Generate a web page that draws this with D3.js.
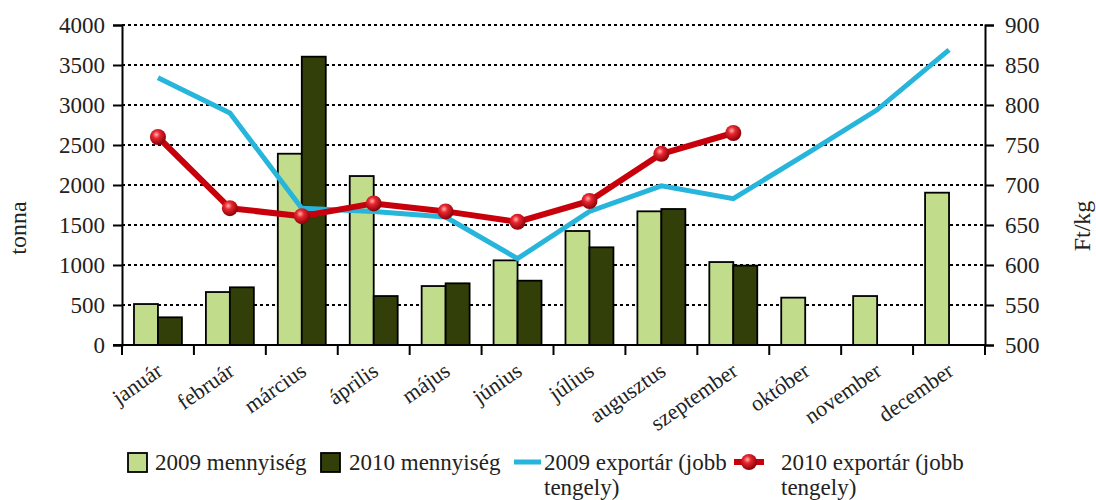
<!DOCTYPE html>
<meta charset="utf-8">
<script src="https://d3js.org/d3.v7.min.js"></script>
<style>
  body { margin: 0; background: #fff; }
  text { font-family: "Liberation Serif", "DejaVu Serif", serif; fill: #222; }
</style>
<div id="chart"></div>
<script>

    // data
    var months = ["január", "február", "március", "április", "május", "június",
                  "július", "augusztus", "szeptember", "október", "november", "december"];
    var qty2009 = [512, 662, 2391, 2112, 737, 1058, 1425, 1671, 1037, 592, 612, 1904];
    var qty2010 = [346, 721, 3604, 612, 771, 804, 1221, 1700, 992, null, null, null];
    var price2009 = [834, 790, 671, 667, 660, 608, 667, 699, 683, 738, 794, 869];
    var price2010 = [760, 671, 661, 677, 667, 654, 680, 739, 765, null, null, null];
    var leftTicks = [0, 500, 1000, 1500, 2000, 2500, 3000, 3500, 4000];
    var rightTicks = [500, 550, 600, 650, 700, 750, 800, 850, 900];

    // plot area
    var W = 1096, H = 500;
    var pLeft = 122, pRight = 985, pTop = 25, pBottom = 345;

    var svg = d3.select("#chart").append("svg")
        .attr("width", W).attr("height", H);

    // gradient for the red ball markers
    var grad = svg.append("defs").append("radialGradient")
        .attr("id", "ball").attr("cx", "40%").attr("cy", "35%").attr("r", "65%");
    grad.append("stop").attr("offset", "0%").attr("stop-color", "#ffb0b0");
    grad.append("stop").attr("offset", "35%").attr("stop-color", "#e8262e");
    grad.append("stop").attr("offset", "100%").attr("stop-color", "#8a0008");

    var x = d3.scaleBand().domain(months).range([pLeft, pRight]).padding(0);
    var xs = d3.scaleBand().domain(["2009", "2010"]).range([0, x.bandwidth()])
        .paddingInner(0).paddingOuter(0.5);
    var y = d3.scaleLinear().domain([0, 4000]).range([pBottom, pTop]);
    var y2 = d3.scaleLinear().domain([500, 900]).range([pBottom, pTop]);

    // dotted grid lines
    svg.append("g").selectAll("line")
        .data(leftTicks.filter(function(d) { return d > 0; }))
        .enter().append("line")
        .attr("x1", pLeft).attr("x2", pRight)
        .attr("y1", function(d) { return y(d); })
        .attr("y2", function(d) { return y(d); })
        .attr("stroke", "#000").attr("stroke-width", 2)
        .attr("stroke-dasharray", "3,3");

    // bars
    var bars = [];
    months.forEach(function(m, i) {
        bars.push({m: m, s: "2009", v: qty2009[i]});
        if (qty2010[i] != null) bars.push({m: m, s: "2010", v: qty2010[i]});
    });
    svg.append("g").selectAll("rect")
        .data(bars)
        .enter().append("rect")
        .attr("x", function(d) { return x(d.m) + xs(d.s); })
        .attr("y", function(d) { return y(d.v); })
        .attr("width", xs.bandwidth())
        .attr("height", function(d) { return pBottom - y(d.v); })
        .attr("fill", function(d) { return d.s == "2009" ? "#c1dd8b" : "#333f08"; })
        .attr("stroke", "#000").attr("stroke-width", 1.8);

    // axes
    var yAxis = svg.append("g")
        .attr("transform", "translate(" + pLeft + ",0)")
        .call(d3.axisLeft(y).tickValues(leftTicks).tickFormat(d3.format("d"))
              .tickSize(9).tickPadding(8));
    var yAxis2 = svg.append("g")
        .attr("transform", "translate(" + pRight + ",0)")
        .call(d3.axisRight(y2).tickValues(rightTicks).tickFormat(d3.format("d"))
              .tickSize(9).tickPadding(11));
    var xAxis = svg.append("g")
        .attr("transform", "translate(0," + pBottom + ")")
        .call(d3.axisBottom(x).tickSize(0).tickFormat(""));
    svg.append("g").selectAll("line")
        .data(d3.range(months.length + 1))
        .enter().append("line")
        .attr("x1", function(i) { return pLeft + i * x.step(); })
        .attr("x2", function(i) { return pLeft + i * x.step(); })
        .attr("y1", pBottom).attr("y2", pBottom + 10)
        .attr("stroke", "#000").attr("stroke-width", 2);

    [yAxis, yAxis2, xAxis].forEach(function(g) {
        g.select(".domain").attr("stroke", "#000").attr("stroke-width", 2);
        g.selectAll(".tick line").attr("stroke", "#000").attr("stroke-width", 2);
        g.selectAll(".tick text").style("font-size", "23px")
            .style("font-family", "Liberation Serif").attr("fill", "#222");
    });
    xAxis.select(".domain").attr("d", "M" + (pLeft - 9) + ",0H" + pRight);

    // month labels
    svg.append("g").selectAll("text")
        .data(months)
        .enter().append("text")
        .attr("text-anchor", "end")
        .attr("transform", function(d) {
            return "translate(" + (x(d) + x.bandwidth() / 2 + 6) + "," + (pBottom + 29) + ") rotate(-35)";
        })
        .style("font-size", "22px")
        .text(function(d) { return d; });

    // price lines
    var line = d3.line()
        .defined(function(d) { return d != null; })
        .x(function(d, i) { return x(months[i]) + x.bandwidth() / 2; })
        .y(function(d) { return y2(d); });

    svg.append("path")
        .attr("d", line(price2009))
        .attr("fill", "none").attr("stroke", "#27b5db").attr("stroke-width", 5);
    svg.append("path")
        .attr("d", line(price2010))
        .attr("fill", "none").attr("stroke", "#c8000b").attr("stroke-width", 6)
        .attr("stroke-linejoin", "round");
    svg.append("g").selectAll("circle")
        .data(price2010.map(function(v, i) { return {v: v, m: months[i]}; })
              .filter(function(d) { return d.v != null; }))
        .enter().append("circle")
        .attr("cx", function(d) { return x(d.m) + x.bandwidth() / 2; })
        .attr("cy", function(d) { return y2(d.v); })
        .attr("r", 8)
        .attr("fill", "url(#ball)");

    // axis titles
    svg.append("text")
        .attr("transform", "translate(26,228) rotate(-90)")
        .attr("text-anchor", "middle")
        .style("font-size", "24px")
        .text("tonna");
    svg.append("text")
        .attr("transform", "translate(1090,226) rotate(-90)")
        .attr("text-anchor", "middle")
        .style("font-size", "24px")
        .text("Ft/kg");

    // legend
    var lg = svg.append("g").style("font-size", "23px");
    lg.append("rect").attr("x", 128).attr("y", 453).attr("width", 19).attr("height", 19)
        .attr("fill", "#c1dd8b").attr("stroke", "#000").attr("stroke-width", 1.8);
    lg.append("text").attr("x", 155).attr("y", 470).text("2009 mennyiség");
    lg.append("rect").attr("x", 321).attr("y", 453).attr("width", 19).attr("height", 19)
        .attr("fill", "#333f08").attr("stroke", "#000").attr("stroke-width", 1.8);
    lg.append("text").attr("x", 349).attr("y", 470).text("2010 mennyiség");
    lg.append("line").attr("x1", 514).attr("x2", 541).attr("y1", 462).attr("y2", 462)
        .attr("stroke", "#27b5db").attr("stroke-width", 5);
    lg.append("text").attr("x", 544).attr("y", 470).text("2009 exportár (jobb");
    lg.append("text").attr("x", 544).attr("y", 495).text("tengely)");
    lg.append("line").attr("x1", 734).attr("x2", 764).attr("y1", 462).attr("y2", 462)
        .attr("stroke", "#c8000b").attr("stroke-width", 6);
    lg.append("circle").attr("cx", 749).attr("cy", 462).attr("r", 8).attr("fill", "url(#ball)");
    lg.append("text").attr("x", 781).attr("y", 470).text("2010 exportár (jobb");
    lg.append("text").attr("x", 781).attr("y", 495).text("tengely)");

</script>
